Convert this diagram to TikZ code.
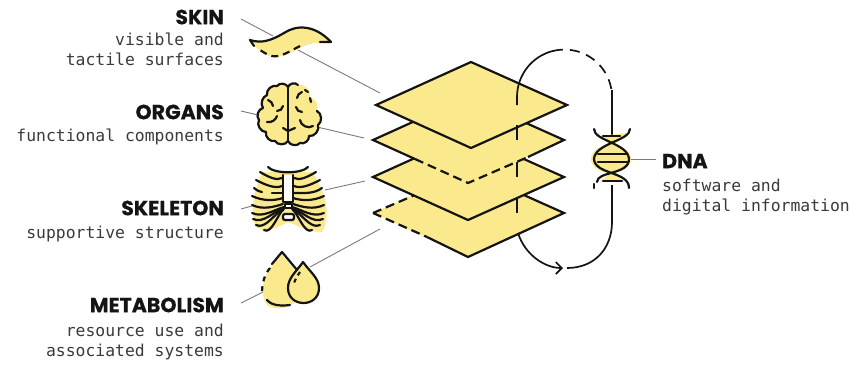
\documentclass[tikz,border=0pt]{standalone}
\usepackage{fontspec}
\usetikzlibrary{arrows.meta}
\newfontfamily\headfont{Poppins}[BoldFeatures={FakeBold=0.5}]
\newfontfamily\bodyfont{DejaVu Sans Mono}
\definecolor{layeryellow}{HTML}{FBE98E}
\definecolor{layerdark}{HTML}{141414}
\definecolor{layergrey}{HTML}{7A7A7A}
\definecolor{layertext}{HTML}{3A3A3A}
\tikzset{
  headlabel/.style={font=\headfont\bfseries\fontsize{20.5}{22}\selectfont,text=layerdark,inner sep=0pt},
  bodylabel/.style={font=\bodyfont\fontsize{16.4}{20}\selectfont,text=layertext,inner sep=0pt},
  ic/.style={draw=layerdark,line width=2.2pt,line cap=round,line join=round},
  icdash/.style={ic,line cap=butt,dash pattern=on 7pt off 5pt},
  blob/.style={fill=layeryellow},
  plate/.style={draw=layerdark,line width=2.2pt,fill=layeryellow,line join=miter},
  platefill/.style={fill=layeryellow},
  platedash/.style={draw=layerdark,line width=2.2pt,dash pattern=on 9pt off 5pt},
  lead/.style={draw=layergrey,line width=0.9pt},
  flow/.style={draw=layerdark,line width=1.7pt},
  flowdash/.style={flow,dash pattern=on 10pt off 7pt},
}
\begin{document}
\begin{tikzpicture}[x=1pt,y=-1pt]
  \useasboundingbox (0,0) rectangle (857,365);

  \node[headlabel,anchor=east] (skinhead) at (224,17) {SKIN};
  \node[bodylabel,anchor=north east,align=right] (skintext) at (224,33) {visible and\\tactile surfaces};
  \node[headlabel,anchor=east] (organhead) at (224,112) {ORGANS};
  \node[bodylabel,anchor=north east,align=right] (organtext) at (224,129) {functional components};
  \node[headlabel,anchor=east] (bonehead) at (224,208) {SKELETON};
  \node[bodylabel,anchor=north east,align=right] (bonetext) at (224,226) {supportive structure};
  \node[headlabel,anchor=east] (metahead) at (224,305) {METABOLISM};
  \node[bodylabel,anchor=north east,align=right] (metatext) at (224,324) {resource use and\\associated systems};
  \node[headlabel,anchor=west] (dnahead) at (662,161) {DNA};
  \node[bodylabel,anchor=north west,align=left] (dnatext) at (662,179) {software and\\digital information};

  \coordinate (skinA) at (241,19); \coordinate (skinB) at (273,36);
  \coordinate (skinC) at (298,50); \coordinate (plateA) at (380,93);
  \coordinate (organA) at (241,111); \coordinate (organB) at (258,115);
  \coordinate (organC) at (317,127); \coordinate (plateB) at (364,138);
  \coordinate (boneA) at (241,209); \coordinate (boneB) at (252,206);
  \coordinate (boneC) at (325,190); \coordinate (plateC) at (365,181);
  \coordinate (metaA) at (241,303); \coordinate (metaB) at (263,292);
  \coordinate (metaC) at (310,267); \coordinate (plateD) at (380,229);
  \coordinate (dnaA) at (630,159); \coordinate (dnaB) at (656,159);
  \draw[lead] (skinA) -- (skinB); \draw[lead] (skinC) -- (plateA);
  \draw[lead] (organA) -- (organB); \draw[lead] (organC) -- (plateB);
  \draw[lead] (boneA) -- (boneB); \draw[lead] (boneC) -- (plateC);
  \draw[lead] (metaA) -- (metaB); \draw[lead] (metaC) -- (plateD);
  \draw[lead] (dnaA) -- (dnaB);

  \fill[blob] (250,40) .. controls (262,44) and (272,40) .. (284,33) .. controls (296,25) and (314,24) .. (332,42) -- (320,43) .. controls (305,42) and (296,52) .. (282,56) .. controls (270,60) and (258,52) .. cycle;
  \draw[ic] (250,40) .. controls (262,44) and (272,40) .. (284,33) .. controls (296,25) and (314,24) .. (331,42) -- (320,42);
  \draw[ic] (250,40) -- (254,46);
  \draw[icdash] (300,46) .. controls (290,51) and (280,58) .. (272,56) .. controls (265,54) and (262,51) .. (260,50);

  \fill[blob] (288,87) to[bend right=60] (277,86) to[bend right=60] (267,95) to[bend right=50] (263,108) to[bend right=60] (259,120) to[bend right=60] (266,132) to[bend right=60] (275,141) to[bend right=60] (288,141) to[bend right=60] (300,143) to[bend right=60] (309,136) to[bend right=60] (318,125) to[bend right=60] (317,111) to[bend right=50] (310,97) to[bend right=60] (298,85) to[bend right=60] (288,87);
  \draw[ic] (288,87) to[bend right=60] (277,86) to[bend right=60] (267,95) to[bend right=50] (263,108) to[bend right=60] (259,120) to[bend right=60] (266,132) to[bend right=60] (275,141) to[bend right=60] (288,141);
  \draw[ic] (288,141) to[bend right=60] (300,143) to[bend right=60] (309,136) to[bend right=60] (318,125) to[bend right=60] (317,111);
  \draw[ic] (288,87) to[bend left=60] (298,85);
  \draw[ic] (288,87) -- (288,141);
  \draw[ic] (283,128) -- (288,131) -- (295,128);
  \draw[ic] (267,122) to[bend right=40] (277,116);
  \draw[ic] (277,111) to[bend right=40] (283,106);
  \draw[ic] (268,100) to[bend left=30] (273,106);
  \draw[ic] (300,120) to[bend right=60] (313,126);
  \draw[ic] (297,98) to[bend left=30] (302,92);
  \draw[ic] (305,90) -- (308,92);
  \draw[ic] (310,98) -- (311,102);
  \draw[ic] (296,107) to[bend right=40] (302,112);

  \fill[blob] (262,172) -- (312,172) .. controls (325,190) and (332,215) .. (322,232) .. controls (305,232) and (296,224) .. (288,222) .. controls (270,232) and (262,232) .. (255,226) .. controls (250,205) and (255,190) .. cycle;
  \draw[ic] (268,167) .. controls (274,174) and (302,174) .. (308,167);
  \fill[white] (283,175) rectangle (293,202);
  \draw[ic] (283,175) -- (283,202) -- (293,202) -- (293,175);
  \fill[white] (285,204) rectangle (292,208);
  \draw[ic] (285,204) rectangle (292,208);
  \fill[white] (283,214) rectangle (293,220);
  \draw[ic,rounded corners=2pt] (283,214) rectangle (294,220);
  \foreach \xa/\ya/\xb/\yb in {-28/172/-6/178,-32/180/-6/186,-36/196/-5/198,-36/205/-5/204,-36/213/-4/207,-35/219/-4/208,-32/225/-4/209,-24/230/-5/210}{
    \draw[ic] (288+\xa,\ya) .. controls (288+0.7*\xa,\ya+5) and (288+0.4*\xa,\yb+3) .. (288+\xb,\yb);
    \draw[ic] (288-\xa,\ya) .. controls (288-0.7*\xa,\ya+5) and (288-0.4*\xa,\yb+3) .. (288-\xb,\yb);
  }
  \draw[ic] (254,188) .. controls (256,190) and (258,191) .. (262,192);
  \draw[ic] (272,193) -- (282,193);
  \draw[ic] (322,188) .. controls (314,194) and (304,193) .. (294,193);

  \fill[blob] (282,255) .. controls (290,264) and (310,285) .. (298,298) .. controls (292,310) and (270,312) .. (265,302) .. controls (260,290) and (262,272) .. cycle;
  \draw[ic] (272,264) -- (282,252) -- (297,270);
  \draw[icdash,dash pattern=on 5pt off 5pt] (270,268) .. controls (265,274) and (262,282) .. (262,293);
  \draw[ic] (267,300) .. controls (272,306) and (282,306) .. (290,305);
  \draw[ic,fill=layeryellow] (303,262) .. controls (296,272) and (288,278) .. (288,288) .. controls (288,308) and (319,308) .. (319,288) .. controls (319,278) and (310,272) .. (303,262) -- cycle;
  \draw[icdash,dash pattern=on 4pt off 4pt] (300,272) .. controls (298,275) and (294,280) .. (294,285);

  \path[platefill] (373,213) -- (468,170) -- (564,213) -- (468,257) -- cycle;
  \draw[plate,fill=none] (427,237) -- (468,257) -- (564,213) -- (468,170);
  \draw[platedash] (373,213) -- (427,237);
  \draw[platedash] (373,213) -- (415,195);
  \path[plate] (373,177) -- (468,134) -- (564,177) -- (468,220) -- cycle;
  \path[platefill] (373,140) -- (468,97) -- (564,140) -- (468,183) -- cycle;
  \draw[plate,fill=none] (415,159) -- (373,140) -- (468,97) -- (564,140) -- (528,157);
  \draw[platedash] (415,159) -- (468,183) -- (528,157);
  \path[plate] (376,105) -- (471,62) -- (567,105) -- (471,148) -- cycle;

  \coordinate (flowtop) at (517,105);
  \coordinate (flowend) at (612,136);
  \draw[flow] (flowtop) -- (517,97) arc[start angle=180,end angle=256,radius=47.5];
  \draw[flowdash] (553,51) arc[start angle=256,end angle=352,radius=47.5];
  \draw[flow] (612,90) -- (flowend);
  \draw[flow] (517,125) -- (517,140);
  \draw[flow] (517,162) -- (517,177);
  \draw[flow] (517,198) -- (517,213);
  \draw[flow,-{Straight Barb[length=6pt,width=12pt]}] (518,233) .. controls (525,255) and (545,268) .. (563,268);
  \draw[flow] (567,268) .. controls (595,268) and (612,248) .. (612,222) -- (612,185);

  \fill[blob] (601,136) -- (627,133) -- (612,146) -- cycle;
  \fill[blob] (611,159) ellipse[x radius=20,y radius=14];
  \fill[blob] (612,171) -- (623,181) -- (601,181) -- cycle;
  \draw[ic] (594,129) .. controls (594,141) and (628,143) .. (629,159) .. controls (629,175) and (597,171) .. (597,182);
  \draw[ic] (630,129) .. controls (630,141) and (595,143) .. (594,159) .. controls (595,175) and (629,171) .. (629,188);
  \draw[ic] (594,184) -- (594,188);
  \draw[ic] (603,136) -- (620,136);
  \draw[ic] (598,154) -- (627,154);
  \draw[ic] (598,162) -- (627,162);
  \draw[ic] (603,181) -- (622,181);
\end{tikzpicture}
\end{document}
